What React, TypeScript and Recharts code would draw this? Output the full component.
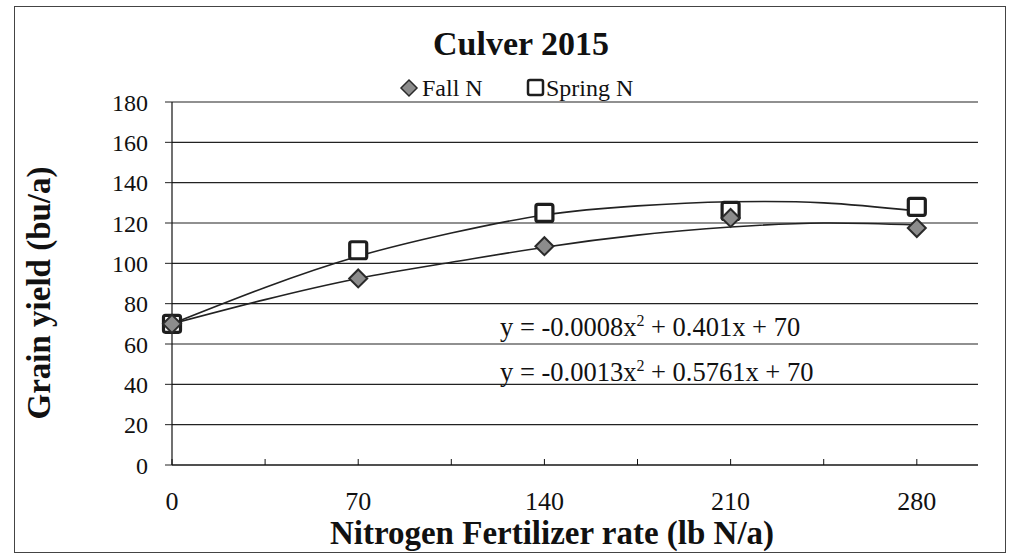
import React from 'react';
import { ComposedChart, Line, Scatter, XAxis, YAxis, CartesianGrid } from 'recharts';

const xTicks = [0, 35, 70, 105, 140, 175, 210, 245, 280];
const xTickLabels = [0, 70, 140, 210, 280];
const yTicks = [0, 20, 40, 60, 80, 100, 120, 140, 160, 180];

const rates = [0, 70, 140, 210, 280];
const fallN = [70, 92.5, 108.5, 122.5, 117.5];
const springN = [70, 106.5, 125, 126, 128];

const trendRates = [0, 35, 70, 105, 140, 175, 210, 245, 280];
const fallTrend = [70, 82, 92.5, 100.5, 108, 114, 118, 120, 119];
const springTrend = [70, 88, 103.5, 115, 124, 128.5, 130.5, 130, 126];

const fallData = rates.map((x, i) => ({ x, y: fallN[i] }));
const springData = rates.map((x, i) => ({ x, y: springN[i] }));
const fallTrendData = trendRates.map((x, i) => ({ x, y: fallTrend[i] }));
const springTrendData = trendRates.map((x, i) => ({ x, y: springTrend[i] }));

const FONT = '"Liberation Serif", "DejaVu Serif", serif';

const Diamond = (props: any) => {
  const { cx, cy } = props;
  const r = 9;
  return (
    <polygon
      points={`${cx},${cy - r} ${cx + r},${cy} ${cx},${cy + r} ${cx - r},${cy}`}
      fill="#8c8c8c"
      stroke="#2a2a2a"
      strokeWidth={2}
    />
  );
};

const Square = (props: any) => {
  const { cx, cy } = props;
  const s = 17;
  return (
    <rect x={cx - s / 2} y={cy - s / 2} width={s} height={s} rx={2} fill="#ffffff" stroke="#1e1e1e" strokeWidth={3.2} />
  );
};

const XTick = (props: any) => {
  const { x, y, payload } = props;
  const show = xTickLabels.includes(payload.value);
  return (
    <g>
      <line x1={x} y1={y} x2={x} y2={y - 6} stroke="#111" strokeWidth={1} />
      {show && (
        <text x={x} y={y + 45} textAnchor="middle" fontFamily={FONT} fontSize={26} fill="#111">
          {payload.value}
        </text>
      )}
    </g>
  );
};

export default function App() {
  return (
    <div style={{ position: 'absolute', left: 0, top: 0, width: 1021, height: 556, background: '#fff' }}>
      <div
        style={{
          position: 'absolute',
          left: 14,
          top: 6,
          width: 990,
          height: 545,
          border: '1.5px solid #444',
        }}
      />
      <div style={{ position: 'absolute', left: 0, top: 0 }}>
        <ComposedChart width={1021} height={556} margin={{ top: 102, right: 43, bottom: 61, left: 112 }}>
          <CartesianGrid horizontal vertical={false} stroke="#222" strokeWidth={1.2} />
          <XAxis
            type="number"
            dataKey="x"
            domain={[0, 303]}
            ticks={xTicks}
            interval={0}
            height={30}
            tickSize={0}
            tickMargin={0}
            tickLine={false}
            tick={<XTick />}
            axisLine={{ stroke: '#111', strokeWidth: 1.2 }}
          />
          <YAxis
            type="number"
            domain={[0, 180]}
            ticks={yTicks}
            interval={0}
            width={60}
            tickSize={7}
            tickMargin={17}
            tickLine={{ stroke: '#222' }}
            axisLine={{ stroke: '#111', strokeWidth: 1.2 }}
            tick={{ fontFamily: FONT, fontSize: 24, fill: '#111' }}
          />
          <Line data={fallTrendData} dataKey="y" type="natural" dot={false} stroke="#222" strokeWidth={1.6} isAnimationActive={false} />
          <Line data={springTrendData} dataKey="y" type="natural" dot={false} stroke="#222" strokeWidth={1.6} isAnimationActive={false} />
          <Scatter data={springData} dataKey="y" shape={<Square />} isAnimationActive={false} />
          <Scatter data={fallData} dataKey="y" shape={<Diamond />} isAnimationActive={false} />
        </ComposedChart>
      </div>
      <svg width={1021} height={556} style={{ position: 'absolute', left: 0, top: 0, pointerEvents: 'none' }}>
        <text x={521} y={55} textAnchor="middle" fontFamily={FONT} fontWeight="bold" fontSize={34} fill="#111">
          Culver 2015
        </text>
        <polygon points="409,80 417,88 409,96 401,88" fill="#8c8c8c" stroke="#2a2a2a" strokeWidth={1.5} />
        <text x={422} y={96} fontFamily={FONT} fontSize={24} fill="#111">Fall N</text>
        <rect x={528} y={80} width={15} height={15} rx={2} fill="#fff" stroke="#1e1e1e" strokeWidth={2.5} />
        <text x={546} y={96} fontFamily={FONT} fontSize={24} fill="#111">Spring N</text>
        <text
          x={50}
          y={293}
          transform="rotate(-90 50 293)"
          textAnchor="middle"
          fontFamily={FONT}
          fontWeight="bold"
          fontSize={33}
          fill="#111"
        >
          Grain yield (bu/a)
        </text>
        <text x={552} y={544} textAnchor="middle" fontFamily={FONT} fontWeight="bold" fontSize={33} fill="#111">
          Nitrogen Fertilizer rate (lb N/a)
        </text>
        <text x={500} y={336} fontFamily={FONT} fontSize={26.5} fill="#111">
          y = -0.0008x<tspan dy={-10} fontSize={16}>2</tspan><tspan dy={10}> + 0.401x + 70</tspan>
        </text>
        <text x={500} y={381} fontFamily={FONT} fontSize={26.5} fill="#111">
          y = -0.0013x<tspan dy={-10} fontSize={16}>2</tspan><tspan dy={10}> + 0.5761x + 70</tspan>
        </text>
      </svg>
    </div>
  );
}
